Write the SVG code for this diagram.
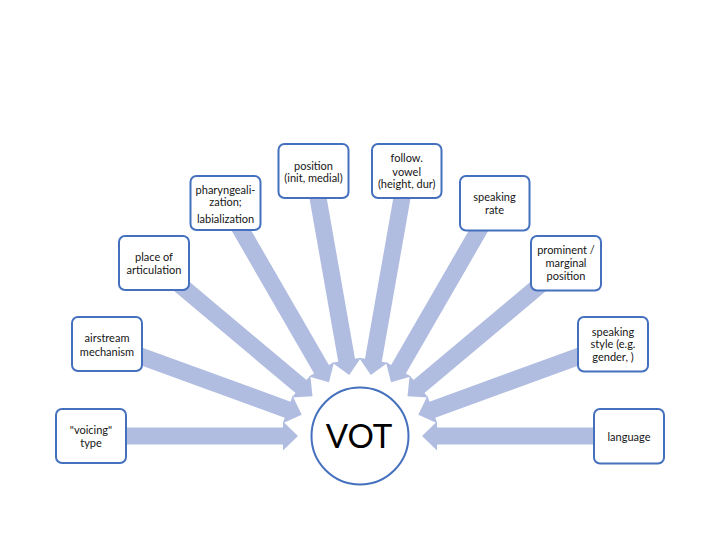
<svg xmlns="http://www.w3.org/2000/svg" xmlns:xlink="http://www.w3.org/1999/xlink" width="720" height="540" viewBox="0 0 720 540">
<style>
.box{fill:#fff;stroke:#4470BE;stroke-width:2}
.t{font-family:Lato,"Liberation Sans",sans-serif;font-size:11px;fill:#151515;text-anchor:middle}
.arr{fill:#B1BDE0}
</style>
<defs>
<polygon id="arr" class="arr" points="91,427.5 283,427.5 283,421.5 298,436 283,450.5 283,444.5 91,444.5"/>
</defs>
<rect width="720" height="540" fill="#fff"/>
<g id="connectors">
<use xlink:href="#arr"/>
<use xlink:href="#arr" transform="rotate(20 360 436)"/>
<use xlink:href="#arr" transform="rotate(40 360 436)"/>
<use xlink:href="#arr" transform="rotate(60 360 436)"/>
<use xlink:href="#arr" transform="rotate(80 360 436)"/>
<use xlink:href="#arr" transform="rotate(100 360 436)"/>
<use xlink:href="#arr" transform="rotate(120 360 436)"/>
<use xlink:href="#arr" transform="rotate(140 360 436)"/>
<use xlink:href="#arr" transform="rotate(160 360 436)"/>
<use xlink:href="#arr" transform="rotate(180 360 436)"/>
</g>
<g id="vot">
<circle cx="360" cy="436" r="48.5" fill="#fff" stroke="#4470BE" stroke-width="2"/>
<text x="359" y="447.5" font-family="Lato,'Liberation Sans',sans-serif" font-size="33" text-anchor="middle" fill="#000">VOT</text>
</g>
<g id="voicing">
<rect class="box" x="56" y="409" width="70" height="54" rx="6"/>
<text class="t" x="91" y="434">"voicing"</text>
<text class="t" x="91" y="447">type</text>
</g>
<g id="airstream">
<rect class="box" x="72" y="317" width="70" height="54" rx="6"/>
<text class="t" x="107" y="342">airstream</text>
<text class="t" x="107" y="355.5">mechanism</text>
</g>
<g id="place">
<rect class="box" x="119" y="236" width="70" height="54" rx="6"/>
<text class="t" x="154" y="260.5">place of</text>
<text class="t" x="154" y="274">articulation</text>
</g>
<g id="pharyngealization">
<rect class="box" x="190.5" y="176" width="70" height="54" rx="6"/>
<text class="t" x="225.5" y="194">pharyngeali-</text>
<text class="t" x="225.5" y="205.5">zation;</text>
<text class="t" x="225.5" y="223">labialization</text>
</g>
<g id="position">
<rect class="box" x="278.5" y="144" width="70" height="54" rx="6"/>
<text class="t" x="313.5" y="169.5">position</text>
<text class="t" x="313.5" y="182">(init, medial)</text>
</g>
<g id="vowel">
<rect class="box" x="372" y="144" width="69.5" height="54" rx="6"/>
<text class="t" x="406.7" y="162">follow.</text>
<text class="t" x="406.7" y="175.5">vowel</text>
<text class="t" x="406.7" y="188">(height, dur)</text>
</g>
<g id="rate">
<rect class="box" x="460" y="176" width="69.5" height="54.5" rx="6"/>
<text class="t" x="494.5" y="201">speaking</text>
<text class="t" x="494.5" y="214">rate</text>
</g>
<g id="prominent">
<rect class="box" x="531" y="236" width="70" height="54.5" rx="6"/>
<text class="t" x="566" y="254" font-size="11.5">prominent /</text>
<text class="t" x="566" y="267.3">marginal</text>
<text class="t" x="566" y="280">position</text>
</g>
<g id="style">
<rect class="box" x="578" y="317" width="70" height="54.5" rx="6"/>
<text class="t" x="613" y="335.5">speaking</text>
<text class="t" x="613" y="348">style (e.g.</text>
<text class="t" x="613" y="361">gender, )</text>
</g>
<g id="language">
<rect class="box" x="594" y="409" width="70" height="54.5" rx="6"/>
<text class="t" x="629" y="440.5">language</text>
</g>
</svg>
